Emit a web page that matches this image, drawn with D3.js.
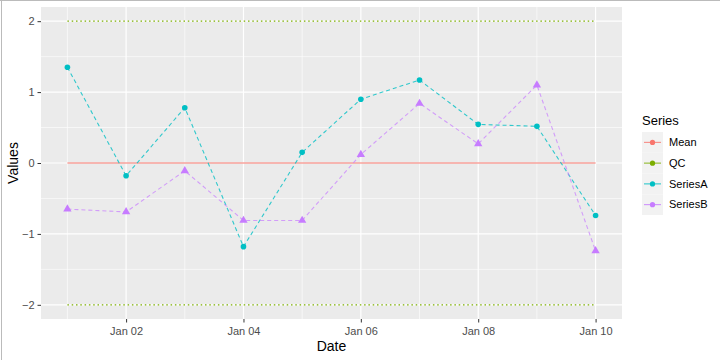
<!DOCTYPE html>
<html><head><meta charset="utf-8">
<script src="https://cdn.jsdelivr.net/npm/d3@7"></script>
<style>body{margin:0;background:#fff}svg{display:block;font-family:"Liberation Sans",Arial,sans-serif}</style>
</head><body><svg id="c" width="720" height="360"></svg>
<script>
const dates = ["2024-01-01","2024-01-02","2024-01-03","2024-01-04","2024-01-05","2024-01-06","2024-01-07","2024-01-08","2024-01-09","2024-01-10"];
const seriesA = [1.35,-0.18,0.78,-1.18,0.15,0.90,1.17,0.545,0.517,-0.74];
const seriesB = [-0.65,-0.69,-0.11,-0.81,-0.81,0.12,0.84,0.27,1.10,-1.24];
const meanVal = 0;
const qcUpper = 2, qcLower = -2;
const yTicks = [-2,-1,0,1,2];
const yMinor = [-1.5,-0.5,0.5,1.5];
const xTickDates = ["2024-01-02","2024-01-04","2024-01-06","2024-01-08","2024-01-10"];
const xTickLabels = ["Jan 02","Jan 04","Jan 06","Jan 08","Jan 10"];
const xMinorDates = ["2024-01-01","2024-01-03","2024-01-05","2024-01-07","2024-01-09"];
const legendNames = ["Mean","QC","SeriesA","SeriesB"];
const colors = {Mean:"#F8766D",QC:"#7CAE00",SeriesA:"#00BFC4",SeriesB:"#C77CFF"};

const svg = d3.select("#c");
const P = {l:41,r:622,t:7,b:319};
const parse = d3.utcParse("%Y-%m-%d");
const D = dates.map(parse);
const span = D[D.length-1]-D[0];
const x = d3.scaleUtc().domain([new Date(+D[0]-span*0.05), new Date(+D[D.length-1]+span*0.05)]).range([P.l,P.r]);
const allV = seriesA.concat(seriesB,[qcUpper,qcLower]);
const ymin = d3.min(allV), ymax = d3.max(allV), yr = ymax-ymin;
const y = d3.scaleLinear().domain([ymin-yr*0.05, ymax+yr*0.05]).range([P.b,P.t]);

// border
svg.append("line").attr("x1",1.5).attr("x2",1.5).attr("y1",0).attr("y2",360).attr("stroke","#bbb");
svg.append("line").attr("x1",0).attr("x2",720).attr("y1",0.5).attr("y2",0.5).attr("stroke","#bbb");

svg.append("rect").attr("x",P.l).attr("y",P.t).attr("width",P.r-P.l).attr("height",P.b-P.t).attr("fill","#EBEBEB");
const g = svg.append("g");
yMinor.forEach(v=>g.append("line").attr("x1",P.l).attr("x2",P.r).attr("y1",y(v)).attr("y2",y(v)).attr("stroke","#fff").attr("stroke-width",0.6));
xMinorDates.map(parse).forEach(d=>g.append("line").attr("y1",P.t).attr("y2",P.b).attr("x1",x(d)).attr("x2",x(d)).attr("stroke","#fff").attr("stroke-width",0.6));
yTicks.forEach(v=>g.append("line").attr("x1",P.l).attr("x2",P.r).attr("y1",y(v)).attr("y2",y(v)).attr("stroke","#fff").attr("stroke-width",1.2));
xTickDates.map(parse).forEach(d=>g.append("line").attr("y1",P.t).attr("y2",P.b).attr("x1",x(d)).attr("x2",x(d)).attr("stroke","#fff").attr("stroke-width",1.2));

// axes
const yAxis = d3.axisLeft(y).tickValues(yTicks).tickSize(3.5).tickPadding(3).tickFormat(d3.format("d"));
const ya = svg.append("g").attr("transform",`translate(${P.l},0)`).call(yAxis);
const xAxis = d3.axisBottom(x).tickValues(xTickDates.map(parse)).tickSize(3.5).tickPadding(3).tickFormat((d,i)=>xTickLabels[i]);
const xa = svg.append("g").attr("transform",`translate(0,${P.b})`).call(xAxis);
[ya,xa].forEach(a=>{a.select(".domain").remove();a.selectAll("line").attr("stroke","#333").attr("stroke-width",1);a.selectAll("text").attr("fill","#4D4D4D").style("font-size","11px").style("font-family","Liberation Sans, Arial, sans-serif");});
xa.selectAll("text").attr("dy","0.85em");

svg.append("text").attr("x",(P.l+P.r)/2).attr("y",351).attr("text-anchor","middle").attr("font-size","14px").attr("fill","#000").text("Date");
svg.append("text").attr("transform",`translate(18,${(P.t+P.b)/2}) rotate(-90)`).attr("text-anchor","middle").attr("font-size","14px").attr("fill","#000").text("Values");

// reference lines
const x0 = x(D[0]), x1 = x(D[D.length-1]);
[qcUpper,qcLower].forEach(v=>svg.append("line").attr("x1",x0).attr("x2",x1).attr("y1",y(v)).attr("y2",y(v)).attr("stroke",colors.QC).attr("stroke-width",1.3).attr("stroke-dasharray","1.5,2.8"));
svg.append("path").attr("d",`M${x0},${y(meanVal)}H${x1}`).attr("fill","none").attr("stroke",colors.Mean).attr("stroke-width",1.2);

const line = d3.line().x((d,i)=>x(D[i])).y(d=>y(d));
svg.append("path").datum(seriesA).attr("d",line).attr("fill","none").attr("stroke",colors.SeriesA).attr("stroke-width",1.1).attr("stroke-dasharray","4,3").attr("opacity",0.8);
svg.append("path").datum(seriesB).attr("d",line).attr("fill","none").attr("stroke",colors.SeriesB).attr("stroke-width",1.1).attr("stroke-dasharray","4,3").attr("opacity",0.7);
svg.selectAll(".pa").data(seriesA).enter().append("circle").attr("cx",(d,i)=>x(D[i])).attr("cy",d=>y(d)).attr("r",2.8).attr("fill",colors.SeriesA);
const tri = d3.symbol().type(d3.symbolTriangle).size(30);
svg.selectAll(".pb").data(seriesB).enter().append("path").attr("d",tri).attr("transform",(d,i)=>`translate(${x(D[i])},${y(d)})`).attr("fill",colors.SeriesB);

// legend
const lg = svg.append("g");
lg.append("text").attr("x",642).attr("y",125).attr("font-size","13px").attr("fill","#000").text("Series");
const ky = d3.scaleBand().domain(legendNames).range([132,215]);
legendNames.forEach(n=>{
  const cy = ky(n)+ky.bandwidth()/2;
  lg.append("rect").attr("x",642).attr("y",ky(n)).attr("width",21).attr("height",ky.bandwidth()).attr("fill","#F2F2F2");
  lg.append("line").attr("x1",644).attr("x2",661).attr("y1",cy).attr("y2",cy).attr("stroke",colors[n]).attr("stroke-width",1.1).attr("opacity",0.8);
  lg.append("circle").attr("cx",652.5).attr("cy",cy).attr("r",2.6).attr("fill",colors[n]);
  lg.append("text").attr("x",669).attr("y",cy).attr("dy","0.35em").attr("font-size","11px").attr("fill","#000").text(n);
});
</script></body></html>
